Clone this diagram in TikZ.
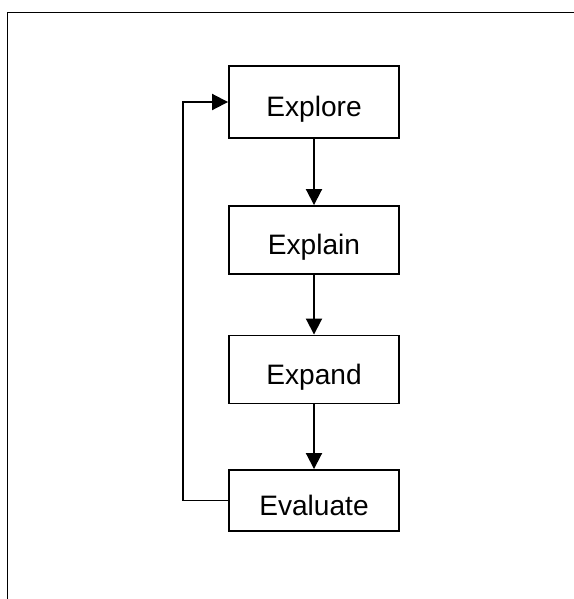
\documentclass[tikz,border=0pt]{standalone}
\usepackage{fontspec}
\setmainfont{Liberation Sans}
\usepackage{tikz}
\usetikzlibrary{arrows.meta,positioning}

\begin{document}
\begin{tikzpicture}[x=0.02cm,y=-0.02cm,
		stage/.style={draw,line width=1.1pt,minimum width=3.4cm,minimum height=1.36cm,inner sep=0pt,text height=17pt,text depth=0pt,font=\fontsize{16}{19}\selectfont},
		flow/.style={draw,line width=1.1pt,-{Triangle[length=0.32cm,width=0.32cm]}}]
		\useasboundingbox (0,0) rectangle (574,599);
		\path [draw,line width=1.1pt] (574,12.5) -- (7.5,12.5) -- (7.5,599);
		\node (explore) at (314,102) [stage,minimum height=1.44cm] {Explore};
		\node (explain) at (314,240) [stage] {Explain};
		\node (expand) at (314,369.5) [stage] {Expand};
		\node (evaluate) at (314,500.5) [stage,minimum height=1.22cm] {Evaluate};
		\path [flow] (explore) -> (explain);
		\path [flow] (explain) -> (expand);
		\path [flow] (expand) -> (evaluate);
		\path [flow] (evaluate.west) -- ++(-45,0) |- (explore.west);
	\end{tikzpicture}
\end{document}
